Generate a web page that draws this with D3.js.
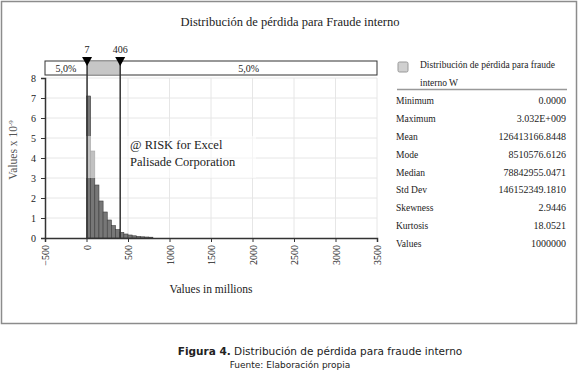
<!DOCTYPE html>
<html>
<head>
<meta charset="utf-8">
<script src="https://cdn.jsdelivr.net/npm/d3@7"></script>
<style>
  body { margin: 0; background: #fff; }
  svg text { font-family: "Liberation Serif", "DejaVu Serif", serif; fill: #222; }
  .caption text { font-family: "DejaVu Sans", Verdana, sans-serif; }
</style>
</head>
<body>
<svg id="chart"></svg>
<script>
// histogram bins (values in millions) and density (x 10^-9)
const binEdges = [0, 50, 100, 150, 200, 250, 300, 350, 400, 450, 500, 550, 600, 650, 700, 750, 800];
const density = [7.1, 4.35, 2.65, 1.85, 1.3, 0.9, 0.62, 0.42, 0.28, 0.2, 0.15, 0.11, 0.08, 0.06, 0.05, 0.04];

const xTicks = [-500, 0, 500, 1000, 1500, 2000, 2500, 3000, 3500];
const yTicks = [0, 1, 2, 3, 4, 5, 6, 7, 8];

const markers = [7, 406];
const tailLabels = ['5,0%', '5,0%'];

const statNames = ['Minimum', 'Maximum', 'Mean', 'Mode', 'Median', 'Std Dev', 'Skewness', 'Kurtosis', 'Values'];
const statValues = ['0.0000', '3.032E+009', '126413166.8448', '8510576.6126', '78842955.0471', '146152349.1810', '2.9446', '18.0521', '1000000'];

const W = 580, H = 372;
const svg = d3.select('#chart').attr('width', W).attr('height', H);

// outer frame
svg.append('rect')
  .attr('x', 1.5).attr('y', 1.5)
  .attr('width', 575).attr('height', 322)
  .attr('fill', 'none').attr('stroke', '#8c8c8c').attr('stroke-width', 1.5);

svg.append('text')
  .attr('x', 290).attr('y', 26)
  .attr('text-anchor', 'middle')
  .style('font-size', '12.5px')
  .text('Distribución de pérdida para Fraude interno');

const x = d3.scaleLinear().domain([-500, 3500]).range([45, 377]);
const y = d3.scaleLinear().domain([0, 8]).range([238, 78]);

// gridlines
svg.append('g').selectAll('line')
  .data(xTicks.slice(1))
  .join('line')
  .attr('x1', d => x(d)).attr('x2', d => x(d))
  .attr('y1', y(8)).attr('y2', y(0))
  .attr('stroke', '#e6e6e6');
svg.append('g').selectAll('line')
  .data(yTicks.slice(1))
  .join('line')
  .attr('x1', x(-500)).attr('x2', x(3500))
  .attr('y1', d => y(d)).attr('y2', d => y(d))
  .attr('stroke', '#e6e6e6');

// bars
svg.append('g').selectAll('rect')
  .data(density)
  .join('rect')
  .attr('x', (d, i) => x(binEdges[i]))
  .attr('width', (d, i) => x(binEdges[i + 1]) - x(binEdges[i]))
  .attr('y', d => y(d))
  .attr('height', d => y(0) - y(d))
  .attr('fill', '#777')
  .attr('stroke', '#3c3c3c')
  .attr('stroke-width', 0.6);

// axes
const xAxis = d3.axisBottom(x).tickValues(xTicks).tickSize(4).tickFormat(d3.format('d'));
const yAxis = d3.axisLeft(y).tickValues(yTicks).tickSize(4).tickPadding(5);

const xG = svg.append('g')
  .attr('transform', `translate(0,${y(0)})`)
  .call(xAxis);
xG.select('.domain').attr('stroke', '#333').attr('stroke-width', 1.5);
xG.selectAll('.tick line').attr('stroke', '#333');
xG.selectAll('.tick text')
  .attr('transform', 'rotate(-90)')
  .attr('text-anchor', 'end')
  .attr('x', -7).attr('y', 0).attr('dy', '0.35em')
  .style('font-size', '10px')
  .style('font-family', '"Liberation Serif", serif');

const yG = svg.append('g')
  .attr('transform', `translate(${x(-500)},0)`)
  .call(yAxis);
yG.select('.domain').attr('stroke', '#333').attr('stroke-width', 1.5);
yG.selectAll('.tick line').attr('stroke', '#333');
yG.selectAll('.tick text')
  .style('font-size', '10px')
  .style('font-family', '"Liberation Serif", serif');

// watermark
svg.append('rect')
  .attr('x', 84).attr('y', 136)
  .attr('width', 172).attr('height', 42)
  .attr('fill', '#fff').attr('opacity', 0.55);
svg.append('text').attr('x', 130).attr('y', 149)
  .style('font-size', '12.5px').text('@ RISK for Excel');
svg.append('text').attr('x', 130).attr('y', 166)
  .style('font-size', '12.5px').text('Palisade Corporation');

// percentile band
const bandY = 61, bandH = 14;
svg.append('rect')
  .attr('x', x(-500)).attr('y', bandY)
  .attr('width', x(3500) - x(-500)).attr('height', bandH)
  .attr('fill', '#fff').attr('stroke', '#333');
svg.append('rect')
  .attr('x', x(markers[0])).attr('y', bandY + 0.5)
  .attr('width', x(markers[1]) - x(markers[0])).attr('height', bandH - 1)
  .attr('fill', '#c6c6c6');
svg.append('text')
  .attr('x', (x(-500) + x(markers[0])) / 2).attr('y', bandY + 11)
  .attr('text-anchor', 'middle').style('font-size', '10px')
  .text(tailLabels[0]);
svg.append('text')
  .attr('x', (x(markers[1]) + x(3500)) / 2).attr('y', bandY + 11)
  .attr('text-anchor', 'middle').style('font-size', '10px')
  .text(tailLabels[1]);

// marker lines and triangles
const mk = svg.append('g').selectAll('g').data(markers).join('g');
mk.append('line')
  .attr('x1', d => x(d)).attr('x2', d => x(d))
  .attr('y1', 60).attr('y2', y(0))
  .attr('stroke', '#333').attr('stroke-width', 1.5);
mk.append('path')
  .attr('d', d => `M${x(d) - 5},57 L${x(d) + 5},57 L${x(d)},66 Z`)
  .attr('fill', '#000');
mk.append('text')
  .attr('x', d => x(d)).attr('y', 53)
  .attr('text-anchor', 'middle').style('font-size', '10px')
  .text(d => d);

// axis titles
svg.append('text')
  .attr('transform', 'translate(17,150) rotate(-90)')
  .attr('text-anchor', 'middle')
  .style('font-size', '11.5px').style('fill', '#555')
  .call(t => {
    t.append('tspan').text('Values x 10');
    t.append('tspan').attr('dy', -4).style('font-size', '7px').text('-9');
  });
svg.append('text')
  .attr('x', (x(-500) + x(3500)) / 2).attr('y', 293)
  .attr('text-anchor', 'middle').style('font-size', '11.5px')
  .text('Values in millions');

// legend
svg.append('rect')
  .attr('x', 398).attr('y', 62).attr('width', 10).attr('height', 10)
  .attr('rx', 1.5)
  .attr('fill', '#d0d0d0').attr('stroke', '#999');
svg.append('text').attr('x', 420).attr('y', 68)
  .style('font-size', '9.5px').text('Distribución de pérdida para fraude');
svg.append('text').attr('x', 420).attr('y', 86)
  .style('font-size', '9.5px').text('interno W');
svg.append('line')
  .attr('x1', 397).attr('x2', 567).attr('y1', 89.5).attr('y2', 89.5)
  .attr('stroke', '#999').attr('stroke-width', 1.5);

const rowY = d3.scalePoint().domain(statNames).range([104, 247]);
const stats = svg.append('g').selectAll('g').data(statNames).join('g');
stats.append('text')
  .attr('x', 396).attr('y', d => rowY(d))
  .style('font-size', '9.5px').text(d => d);
stats.append('text')
  .attr('x', 566).attr('y', d => rowY(d))
  .attr('text-anchor', 'end')
  .style('font-size', '10px').text((d, i) => statValues[i]);

// caption
const cap = svg.append('g').attr('class', 'caption');
cap.append('text')
  .attr('x', 320).attr('y', 355)
  .attr('text-anchor', 'middle').style('font-size', '10.5px')
  .call(t => {
    t.append('tspan').style('font-weight', 'bold').text('Figura 4.');
    t.append('tspan').text(' Distribución de pérdida para fraude interno');
  });
cap.append('text')
  .attr('x', 290).attr('y', 368)
  .attr('text-anchor', 'middle').style('font-size', '9px')
  .text('Fuente: Elaboración propia');
</script>
</body>
</html>
